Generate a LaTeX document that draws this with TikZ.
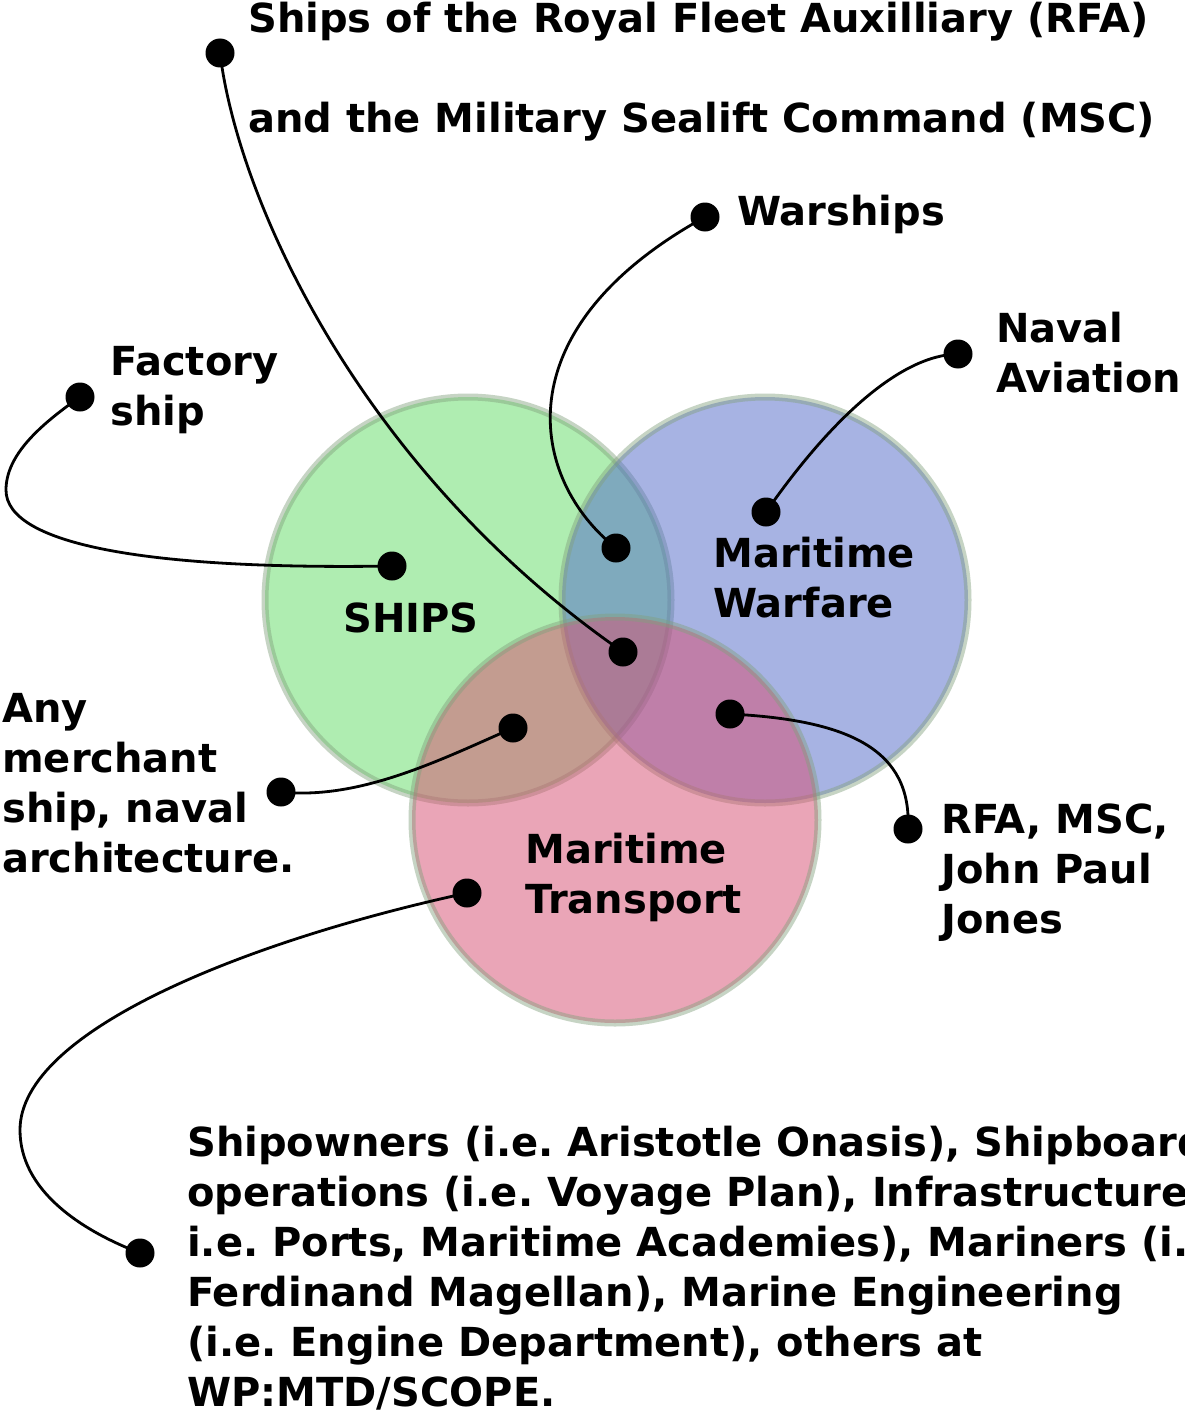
\documentclass[tikz,border=0pt]{standalone}
\usepackage{fontspec}
\setmainfont{DejaVu Sans}
\begin{document}
\frenchspacing
\begin{tikzpicture}[x=1pt,y=-1pt,
  dot/.style={circle,fill=black,minimum size=29pt,inner sep=0pt},
  lbl/.style={anchor=base west,inner sep=0pt,align=left,font=\fontsize{40}{50}\selectfont\bfseries},
  link/.style={line width=2.8pt,black},
  venn/.style={line width=7pt,draw=ring,draw opacity=0.45,fill opacity=0.5}]
\definecolor{cgreen}{RGB}{97,221,101}
\definecolor{cblue}{RGB}{81,105,201}
\definecolor{cpink}{RGB}{215,77,113}
\definecolor{ring}{RGB}{130,160,125}
\clip (0,0) rectangle (1184,1410);
\fill[white] (0,0) rectangle (1184,1410);
% circles
\path[venn,fill=cgreen] (468,600) circle[radius=203];
\path[venn,fill=cblue] (765,600) circle[radius=203];
\path[venn,fill=cpink] (615,820) circle[radius=203];
% dots
\node[dot] (rfa) at (220,53) {};
\node[dot] (all) at (623,652) {};
\node[dot] (war) at (705,217) {};
\node[dot] (gb) at (616,548) {};
\node[dot] (nav) at (958,354) {};
\node[dot] (mw) at (766,512) {};
\node[dot] (fac) at (80,397) {};
\node[dot] (sh) at (392,566) {};
\node[dot] (mer) at (281,792) {};
\node[dot] (gp) at (513,728) {};
\node[dot] (rm) at (908,829) {};
\node[dot] (bp) at (730,714) {};
\node[dot] (own) at (140,1253) {};
\node[dot] (mt) at (467,893) {};
% connectors
\draw[link] (rfa.center) .. controls (238,200) and (360,470) .. (all.center);
\draw[link] (war.center) .. controls (500,330) and (530,480) .. (gb.center);
\draw[link] (nav.center) .. controls (900,355) and (830,420) .. (mw.center);
\draw[link] (fac.center) .. controls (40,425) and (6,455) .. (6,490) .. controls (6,545) and (150,570) .. (sh.center);
\draw[link] (mer.center) .. controls (360,800) and (440,760) .. (gp.center);
\draw[link] (bp.center) .. controls (850,720) and (912,750) .. (rm.center);
\draw[link] (mt.center) .. controls (250,940) and (20,1030) .. (20,1130) .. controls (20,1190) and (80,1230) .. (own.center);
% labels (base anchor = baseline of last line)
\node[lbl] (t1) at (248,132) {Ships of the Royal Fleet Auxilliary (RFA)\\[50pt]and the Military Sealift Command (MSC)};
\node[lbl] (t2) at (737,225) {Warships};
\node[lbl] (t3) at (996,392) {Naval\\Aviation};
\node[lbl] (t4) at (110,425) {Factory\\ship};
\node[lbl] (t5) at (343,632) {SHIPS};
\node[lbl] (t6) at (713,617) {Maritime\\Warfare};
\node[lbl] (t7) at (2,872) {Any\\merchant\\ship, naval\\architecture.};
\node[lbl] (t8) at (525,913) {Maritime\\Transport};
\node[lbl] (t9) at (941,933) {RFA, MSC,\\John Paul\\Jones};
\node[lbl] (t10) at (187,1406) {Shipowners (i.e. Aristotle Onasis), Shipboard\\operations (i.e. Voyage Plan), Infrastructure (\\i.e. Ports, Maritime Academies), Mariners (i.e.\\Ferdinand Magellan), Marine Engineering\\(i.e. Engine Department), others at\\WP:MTD/SCOPE.};
\end{tikzpicture}
\end{document}
